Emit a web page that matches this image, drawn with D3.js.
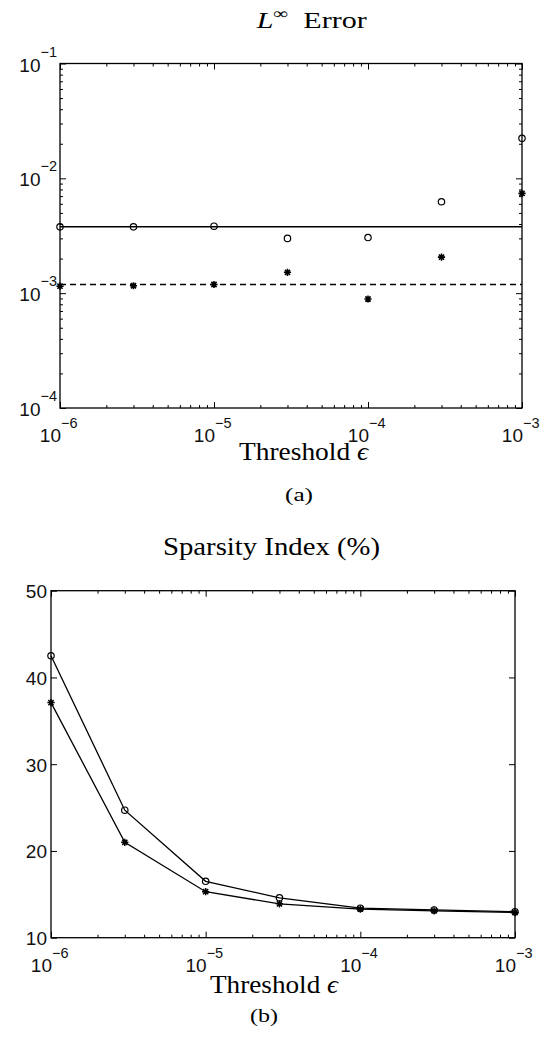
<!DOCTYPE html>
<html>
<head>
<meta charset="utf-8">
<script src="https://cdn.jsdelivr.net/npm/d3@7"></script>
<style>
  body { margin: 0; background: #fff; }
  svg { display: block; }
  .tick line { stroke: #000; }
</style>
</head>
<body>
<script>
// data
const thresholds = [1e-6, 3e-6, 1e-5, 3e-5, 1e-4, 3e-4, 1e-3];
const errCircle = [0.00378, 0.00378, 0.00383, 0.00300, 0.00305, 0.00625, 0.0223];
const errStar = [0.00115, 0.00116, 0.00119, 0.00152, 0.00089, 0.00206, 0.0074];
const errSolidLevel = [0.00379];
const errDashedLevel = [0.00119];
const sparCircle = [42.5, 24.7, 16.5, 14.6, 13.4, 13.2, 13.0];
const sparStar = [37.1, 21.0, 15.3, 13.9, 13.3, 13.1, 12.9];

const xDecades = [1e-6, 1e-5, 1e-4, 1e-3];
const xExpLabels = ["\u22126", "\u22125", "\u22124", "\u22123"];
const errDecades = [1e-4, 1e-3, 1e-2, 1e-1];
const errExpLabels = ["\u22124", "\u22123", "\u22122", "\u22121"];
const sparTicks = [10, 20, 30, 40, 50];

const WIDTH = 550, HEIGHT = 1042;
const SANS = "'Liberation Sans', Arial, sans-serif";
const SERIF = "'Liberation Serif', 'Times New Roman', serif";

const svg = d3.select("body").append("svg")
    .attr("width", WIDTH)
    .attr("height", HEIGHT);

// panel boxes
const A = {left: 60, right: 522, top: 63.5, bottom: 408};
const B = {left: 51, right: 515, top: 590.7, bottom: 937.7};

const xA = d3.scaleLog().domain([1e-6, 1e-3]).range([A.left, A.right]);
const yA = d3.scaleLog().domain([1e-4, 1e-1]).range([A.bottom, A.top]);
const xB = d3.scaleLog().domain([1e-6, 1e-3]).range([B.left, B.right]);
const yB = d3.scaleLinear().domain([10, 50]).range([B.bottom, B.top]);

function minors(scale) {
  return scale.ticks().filter(v => Math.abs(Math.log10(v) - Math.round(Math.log10(v))) > 1e-6);
}

// inward ticks, no domain line (frame drawn separately)
function tickRow(axisFn, scale, values, size, transform) {
  svg.append("g")
      .attr("transform", transform)
      .call(axisFn(scale).tickValues(values).tickSize(-size).tickSizeOuter(0).tickFormat(""))
      .call(g => g.select(".domain").remove())
      .selectAll("line").attr("stroke-width", 1);
}

function frame(P) {
  svg.append("rect")
      .attr("x", P.left).attr("y", P.top)
      .attr("width", P.right - P.left).attr("height", P.bottom - P.top)
      .attr("fill", "none").attr("stroke", "#000").attr("stroke-width", 1.3);
}

function starPath(r) {
  const a = r * 0.72;
  return `M${-r},0H${r}M0,${-r}V${r}M${-a},${-a}L${a},${a}M${-a},${a}L${a},${-a}`;
}

function xPowerLabels(scale, baseY) {
  const g = svg.append("g").attr("font-family", SANS).attr("fill", "#111");
  g.selectAll("text.base").data(xDecades).enter().append("text")
      .attr("class", "base")
      .attr("x", d => scale(d) + 1).attr("y", baseY)
      .attr("text-anchor", "end").attr("font-size", 19)
      .text("10");
  g.selectAll("text.exp").data(xDecades).enter().append("text")
      .attr("class", "exp")
      .attr("x", d => scale(d) + 1).attr("y", baseY - 14)
      .attr("text-anchor", "start").attr("font-size", 14.5)
      .text((d, i) => xExpLabels[i]);
}

// ---------- panel (a) ----------
frame(A);
tickRow(d3.axisBottom, xA, xDecades, 6, `translate(0,${A.bottom})`);
tickRow(d3.axisBottom, xA, minors(xA), 3, `translate(0,${A.bottom})`);
tickRow(d3.axisTop, xA, xDecades, 6, `translate(0,${A.top})`);
tickRow(d3.axisTop, xA, minors(xA), 3, `translate(0,${A.top})`);
tickRow(d3.axisLeft, yA, errDecades, 6, `translate(${A.left},0)`);
tickRow(d3.axisLeft, yA, minors(yA), 3, `translate(${A.left},0)`);
tickRow(d3.axisRight, yA, errDecades, 6, `translate(${A.right},0)`);
tickRow(d3.axisRight, yA, minors(yA), 3, `translate(${A.right},0)`);

const yLabA = svg.append("g").attr("font-family", SANS).attr("fill", "#111");
yLabA.selectAll("text").data(errDecades).enter().append("text")
    .attr("x", 57).attr("y", d => yA(d) + 8)
    .attr("text-anchor", "end").attr("font-size", 19)
    .each(function(d, i) {
      const t = d3.select(this);
      t.append("tspan").text("10");
      t.append("tspan").attr("dy", -15).attr("font-size", 14.5).text(errExpLabels[i]);
    });
xPowerLabels(xA, A.bottom + 34);

const levelLine = v => d3.line().x(d => xA(d)).y(() => yA(v));
const ends = [thresholds[0], thresholds[thresholds.length - 1]];
svg.append("path").attr("d", levelLine(errSolidLevel[0])(ends))
    .attr("fill", "none").attr("stroke", "#000").attr("stroke-width", 1.4);
svg.append("path").attr("d", levelLine(errDashedLevel[0])(ends))
    .attr("fill", "none").attr("stroke", "#000").attr("stroke-width", 1.4)
    .attr("stroke-dasharray", "6,4");

svg.append("g").selectAll("circle").data(thresholds).enter().append("circle")
    .attr("cx", d => xA(d)).attr("cy", (d, i) => yA(errCircle[i]))
    .attr("r", 3.2).attr("fill", "none").attr("stroke", "#000").attr("stroke-width", 1.2);
svg.append("g").selectAll("path").data(thresholds).enter().append("path")
    .attr("transform", (d, i) => `translate(${xA(d)},${yA(errStar[i])})`)
    .attr("d", starPath(3.6)).attr("stroke", "#000").attr("stroke-width", 1.6);

svg.append("text")
    .attr("x", 311.7).attr("y", 28)
    .attr("text-anchor", "middle").attr("font-family", SERIF).attr("font-size", 23)
    .attr("textLength", 110).attr("lengthAdjust", "spacingAndGlyphs")
    .each(function() {
      const t = d3.select(this);
      t.append("tspan").attr("font-style", "italic").text("L");
      t.append("tspan").attr("dy", -9).attr("font-size", 16).text("\u221E");
      t.append("tspan").attr("dy", 9).text("\u00A0\u00A0Error");
    });

svg.append("text")
    .attr("x", 303.5).attr("y", 460)
    .attr("text-anchor", "middle").attr("font-family", SERIF).attr("font-size", 25)
    .attr("textLength", 129).attr("lengthAdjust", "spacingAndGlyphs")
    .each(function() {
      const t = d3.select(this);
      t.append("tspan").text("Threshold ");
      t.append("tspan").attr("font-style", "italic").text("\u03F5");
    });

svg.append("text")
    .attr("x", 299).attr("y", 501)
    .attr("text-anchor", "middle").attr("font-family", SERIF).attr("font-size", 19)
    .attr("textLength", 28).attr("lengthAdjust", "spacingAndGlyphs")
    .text("(a)");

// ---------- panel (b) ----------
frame(B);
tickRow(d3.axisBottom, xB, xDecades, 6, `translate(0,${B.bottom})`);
tickRow(d3.axisBottom, xB, minors(xB), 3, `translate(0,${B.bottom})`);
tickRow(d3.axisTop, xB, xDecades, 6, `translate(0,${B.top})`);
tickRow(d3.axisTop, xB, minors(xB), 3, `translate(0,${B.top})`);
tickRow(d3.axisLeft, yB, sparTicks, 6, `translate(${B.left},0)`);
tickRow(d3.axisRight, yB, sparTicks, 6, `translate(${B.right},0)`);

svg.append("g").attr("font-family", SANS).attr("fill", "#111")
  .selectAll("text").data(sparTicks).enter().append("text")
    .attr("x", 47).attr("y", d => yB(d) + 7.5)
    .attr("text-anchor", "end").attr("font-size", 19)
    .text(d => d);
xPowerLabels(xB, B.bottom + 34);

const sparLine = vals => d3.line().x(d => xB(d)).y((d, i) => yB(vals[i]))(thresholds);
svg.append("path").attr("d", sparLine(sparCircle))
    .attr("fill", "none").attr("stroke", "#000").attr("stroke-width", 1.3);
svg.append("path").attr("d", sparLine(sparStar))
    .attr("fill", "none").attr("stroke", "#000").attr("stroke-width", 1.3);

svg.append("g").selectAll("circle").data(thresholds).enter().append("circle")
    .attr("cx", d => xB(d)).attr("cy", (d, i) => yB(sparCircle[i]))
    .attr("r", 3.2).attr("fill", "none").attr("stroke", "#000").attr("stroke-width", 1.2);
svg.append("g").selectAll("path").data(thresholds).enter().append("path")
    .attr("transform", (d, i) => `translate(${xB(d)},${yB(sparStar[i])})`)
    .attr("d", starPath(3.6)).attr("stroke", "#000").attr("stroke-width", 1.5);

svg.append("text")
    .attr("x", 271.5).attr("y", 555)
    .attr("text-anchor", "middle").attr("font-family", SERIF).attr("font-size", 25)
    .attr("textLength", 217).attr("lengthAdjust", "spacingAndGlyphs")
    .text("Sparsity Index (%)");

svg.append("text")
    .attr("x", 274).attr("y", 993)
    .attr("text-anchor", "middle").attr("font-family", SERIF).attr("font-size", 26)
    .attr("textLength", 128).attr("lengthAdjust", "spacingAndGlyphs")
    .each(function() {
      const t = d3.select(this);
      t.append("tspan").text("Threshold ");
      t.append("tspan").attr("font-style", "italic").text("\u03F5");
    });

svg.append("text")
    .attr("x", 264).attr("y", 1022)
    .attr("text-anchor", "middle").attr("font-family", SERIF).attr("font-size", 19)
    .attr("textLength", 28).attr("lengthAdjust", "spacingAndGlyphs")
    .text("(b)");
</script>
</body>
</html>
